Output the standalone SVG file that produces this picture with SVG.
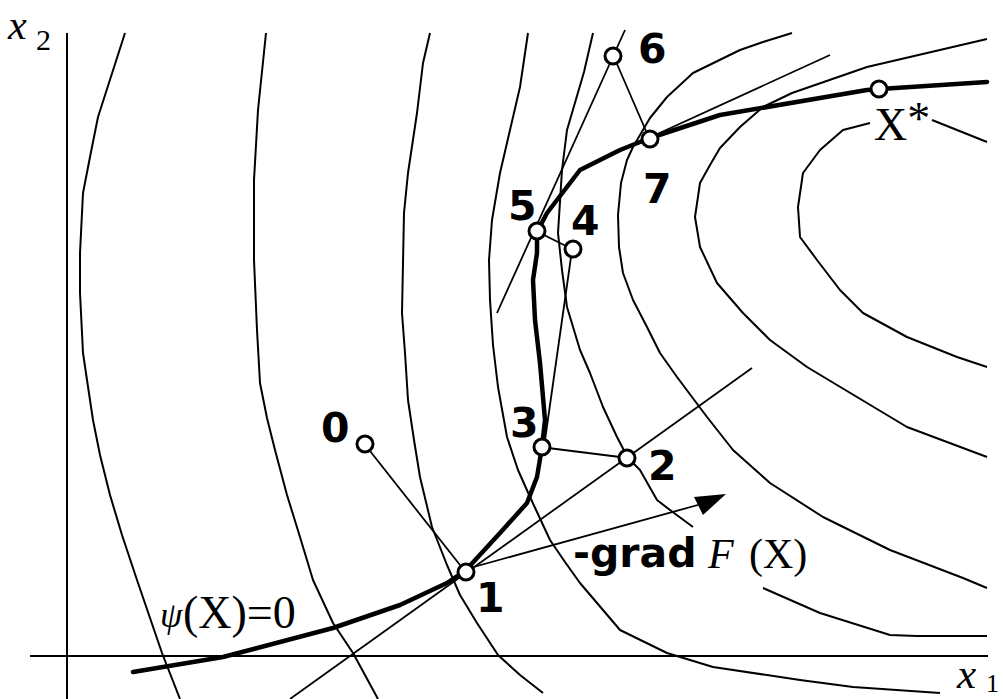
<svg xmlns="http://www.w3.org/2000/svg" width="1003" height="699" viewBox="0 0 1003 699">
<style>
.c{fill:none;stroke:#000;stroke-width:2;stroke-linejoin:round}
.ln{fill:none;stroke:#000;stroke-width:1.8}
.psi{fill:none;stroke:#000;stroke-width:4.5;stroke-linejoin:round;stroke-linecap:round}
.pt{fill:#fff;stroke:#000;stroke-width:3}
.num{font-family:"DejaVu Sans",Verdana,sans-serif;font-weight:bold;font-size:41px;fill:#000}
.ser{font-family:"Liberation Serif","Times New Roman",serif;fill:#000}
</style>
<rect width="1003" height="699" fill="#fff"/>
<g id="axes">
<path class="c" d="M67 33V699M30 656H988"/>
<text class="ser" x="8" y="39" font-size="42" font-style="italic">x</text>
<text class="ser" x="36" y="50" font-size="30">2</text>
<text class="ser" x="957" y="688" font-size="43" font-style="italic">x</text>
<text class="ser" x="986" y="692" font-size="26">1</text>
</g>
<g id="contours">
<path class="c" d="M125 33L98 117L90 157L83 193L80 253L80 293L83 353L87 380L93 420L100 455L110 495L122 535L137 580L162 653L180 699"/>
<path class="c" d="M266 33L258 110L254 180L254 260L257 330L260 383L267 418L275 450L287 495L300 537L313 580L333 623L353 653L378 699"/>
<path class="c" d="M430 33L423 63L417 113L408 173L404 213L402 313L405 353L408 400L414 440L420 477L432 527L447 565L460 595L477 623L498 655L520 675L543 693"/>
<path class="c" d="M528 33L520 87L500 173L492 220L489 260L490 300L493 345L498 387L507 437L518 470L530 497L550 540L565 562L580 583L620 630L667 653L713 667L800 680L853 687L940 693"/>
<path class="c" d="M593 33L584 72L567 130L562 170L558 233L562 270L567 307L580 350L590 373L603 407L617 437L628 458L640 470L657 500L670 510L693 527"/>
<path class="c" d="M763 588L820 613L890 635L917 636L987 636"/>
<path class="c" d="M792 33L763 42L740 50L693 73L667 97L650 118L640 135L633 147L627 160L621 183L618 215L619 247L623 273L633 300L647 327L660 353L677 377L707 417L733 450L770 483L823 517L890 550L963 578L987 588"/>
<path class="c" d="M987 39L867 67L792 93L763 107L740 127L720 148L710 165L700 183L695 217L700 247L717 283L743 313L770 340L807 367L857 397L907 427L987 457"/>
<path class="c" d="M870 123L843 130L820 150L803 173L798 207L800 237L817 260L840 290L863 313L907 337L957 357L987 367"/>
<path class="c" d="M932 120L987 142"/>
</g>
<g id="connectors">
<path class="ln" d="M370 451L460 565"/>
<path class="ln" d="M290 699L752 368"/>
<path class="ln" d="M470 568L705 503"/>
<polygon points="726,494 694,497 703,515" fill="#000"/>
<path class="ln" d="M548 448L620 457"/>
<path class="ln" d="M545 440L571 257"/>
<path class="ln" d="M544 235L566 246"/>
<path class="ln" d="M625 30L497 313"/>
<path class="ln" d="M617 64L646 131"/>
<path class="ln" d="M605 158L830 55"/>
</g>
<g id="psi-curve">
<path class="psi" d="M133 672L223 657L333 628L400 605L447 583L466 570L500 533L527 503L537 477L542 447L545 420L540 363L535 320L533 280L537 253L537 232L547 213L580 170L620 150L650 138L720 115L867 90L880 89L987 82"/>
<text class="ser" x="160" y="627" font-size="36" font-style="italic">ψ</text>
<text class="ser" x="183" y="628" font-size="46">(X)=0</text>
</g>
<g id="grad-label">
<text class="num" x="573" y="567">-grad</text>
<text class="ser" x="708" y="568" font-size="42" font-style="italic">F</text>
<text class="ser" x="749" y="568" font-size="42">(X)</text>
</g>
<g id="node-0"><circle class="pt" cx="365" cy="444" r="8"/><text class="num" x="321" y="442">0</text></g>
<g id="node-1"><circle class="pt" cx="466" cy="572" r="8"/><text class="num" x="476" y="612">1</text></g>
<g id="node-2"><circle class="pt" cx="627" cy="458" r="8"/><text class="num" x="648" y="480">2</text></g>
<g id="node-3"><circle class="pt" cx="542" cy="447" r="8"/><text class="num" x="510" y="437">3</text></g>
<g id="node-4"><circle class="pt" cx="573" cy="249" r="8"/><text class="num" x="571" y="235">4</text></g>
<g id="node-5"><circle class="pt" cx="537" cy="231" r="8"/><text class="num" x="508" y="220">5</text></g>
<g id="node-6"><circle class="pt" cx="613" cy="56" r="8"/><text class="num" x="638" y="63">6</text></g>
<g id="node-7"><circle class="pt" cx="650" cy="139" r="8"/><text class="num" x="643" y="203">7</text></g>
<g id="node-xstar"><circle class="pt" cx="879" cy="89" r="8"/><text class="ser" x="874" y="140" font-size="46">X<tspan dy="-6">*</tspan></text></g>
</svg>
